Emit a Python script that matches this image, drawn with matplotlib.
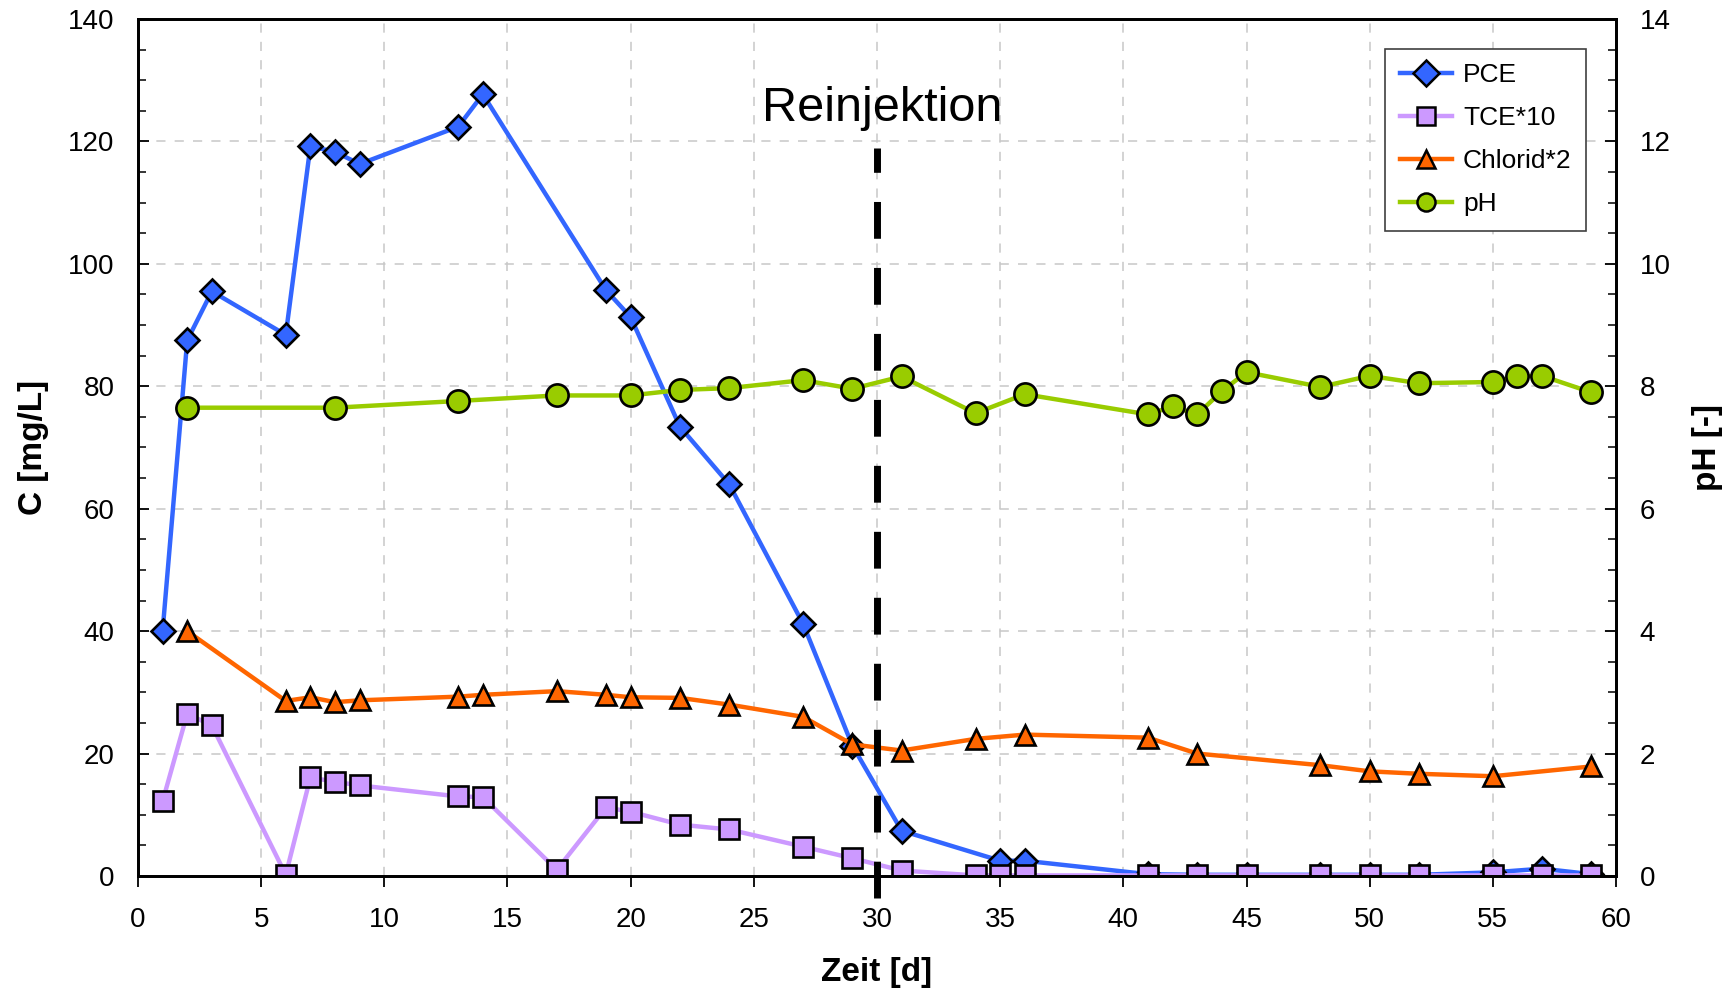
import matplotlib
matplotlib.use('Agg')
import matplotlib.pyplot as plt
from matplotlib.ticker import MultipleLocator

# data
pce_days = [1, 2, 3, 6, 7, 8, 9, 13, 14, 19, 20, 22, 24, 27, 29, 31, 35, 36,
            41, 43, 45, 48, 50, 52, 55, 57, 59]
pce = [40.0, 87.5, 95.5, 88.4, 119.2, 118.3, 116.3, 122.4, 127.7, 95.7, 91.3,
       73.4, 64.0, 41.2, 21.3, 7.4, 2.5, 2.5, 0.3, 0.2, 0.2, 0.2, 0.2, 0.2,
       0.6, 1.2, 0.3]

tce_days = [1, 2, 3, 6, 7, 8, 9, 13, 14, 17, 19, 20, 22, 24, 27, 29, 31, 34,
            35, 36, 41, 43, 45, 48, 50, 52, 55, 57, 59]
tce10 = [12.2, 26.5, 24.6, 0.2, 16.1, 15.4, 14.8, 13.0, 12.9, 1.0, 11.2, 10.5,
         8.4, 7.6, 4.8, 2.9, 0.9, 0.1, 0.1, 0.1, 0.1, 0.1, 0.1, 0.1, 0.1, 0.1,
         0.1, 0.1, 0.1]

cl_days = [2, 6, 7, 8, 9, 13, 14, 17, 19, 20, 22, 24, 27, 29, 31, 34, 36, 41,
           43, 48, 50, 52, 55, 59]
chlorid2 = [40.0, 28.6, 29.2, 28.4, 28.7, 29.3, 29.6, 30.2, 29.6, 29.2, 29.1,
            28.0, 26.0, 21.5, 20.5, 22.4, 23.1, 22.6, 20.0, 18.1, 17.1, 16.7,
            16.3, 17.9]

ph_days = [2, 8, 13, 17, 20, 22, 24, 27, 29, 31, 34, 36, 41, 42, 43, 44, 45,
           48, 50, 52, 55, 56, 57, 59]
ph = [7.65, 7.65, 7.76, 7.85, 7.85, 7.94, 7.97, 8.10, 7.96, 8.16, 7.56, 7.87,
      7.54, 7.67, 7.54, 7.92, 8.23, 7.99, 8.17, 8.05, 8.07, 8.16, 8.17, 7.90]

reinjection_day = 30

plt.rcParams['font.family'] = ['Liberation Sans', 'DejaVu Sans']

fig = plt.figure(figsize=(17.33, 9.93), dpi=100)
ax = fig.add_axes([0.0796, 0.1178, 0.8529, 0.8631])
ax2 = ax.twinx()

lw = 3.2
edge = dict(markeredgecolor='black', markeredgewidth=1.9)
h1, = ax.plot(pce_days, pce, color='#3366FF', lw=lw, marker='D', ms=12.5,
              markerfacecolor='#3366FF', label='PCE', **edge)
h2, = ax.plot(tce_days, tce10, color='#CC99FF', lw=lw, marker='s', ms=14,
              markerfacecolor='#CC99FF', label='TCE*10', **edge)
h3, = ax.plot(cl_days, chlorid2, color='#FF6600', lw=lw, marker='^', ms=15,
              markerfacecolor='#FF6600', label='Chlorid*2', **edge)
h4, = ax2.plot(ph_days, ph, color='#99CC00', lw=lw, marker='o', ms=16,
               markerfacecolor='#99CC00', label='pH', **edge)

# reinjection marker, drawn on top of everything
ax2.plot([reinjection_day, reinjection_day], [-3.6, 119], transform=ax.transData,
         color='black', lw=5, dashes=(5.3, 4.2), clip_on=False, zorder=10)
ax2.text(reinjection_day + 0.2, 125.3, 'Reinjektion', transform=ax.transData,
         ha='center', va='center', fontsize=35, zorder=11)

ax.set_xlim(0, 60)
ax.set_ylim(0, 140)
ax2.set_ylim(0, 14)
ax.xaxis.set_major_locator(MultipleLocator(5))
ax.yaxis.set_major_locator(MultipleLocator(20))
ax.yaxis.set_minor_locator(MultipleLocator(5))
ax2.yaxis.set_major_locator(MultipleLocator(2))
ax2.yaxis.set_minor_locator(MultipleLocator(0.5))

ax.grid(True, which='major', color='#C8C8C8', lw=1.1, dashes=(6, 6))
ax.set_axisbelow(True)

ax.tick_params(axis='x', direction='out', length=8, width=1.3, pad=14, labelsize=20)
ax.tick_params(axis='y', which='major', direction='in', length=8, width=1.3, pad=17, labelsize=20)
ax.tick_params(axis='y', which='minor', direction='in', length=6, width=1.1)
ax2.tick_params(axis='y', which='major', direction='in', length=8, width=1.3, pad=17, labelsize=20)
ax2.tick_params(axis='y', which='minor', direction='in', length=6, width=1.1)
for a in (ax, ax2):
    for s in a.spines.values():
        s.set_linewidth(2.0)

ax.set_xlabel('Zeit [d]', fontsize=24, fontweight='bold')
ax.set_ylabel('C [mg/L]', fontsize=24, fontweight='bold')
ax2.set_ylabel('pH [-]', fontsize=24, fontweight='bold')
ax.xaxis.set_label_coords(0.5, -0.112)
ax.xaxis.label.set_va('center')
ax.yaxis.set_label_coords(-0.071, 0.5)
ax.yaxis.label.set_va('center')
ax2.yaxis.set_label_coords(1.0616, 0.5)
ax2.yaxis.label.set_va('center')

leg = ax2.legend(handles=[h1, h2, h3, h4], loc='upper right',
                 bbox_to_anchor=(0.9797, 0.965), fontsize=19, frameon=True,
                 fancybox=False, edgecolor='#404040', framealpha=1,
                 handlelength=2.0, labelspacing=0.72, borderpad=0.55,
                 handletextpad=0.4, borderaxespad=0)
leg.get_frame().set_linewidth(1.2)
for hl in leg.legend_handles:
    hl.set_markersize(13)
    hl.set_markeredgewidth(1.8)

fig.savefig('out.png', dpi=100)
